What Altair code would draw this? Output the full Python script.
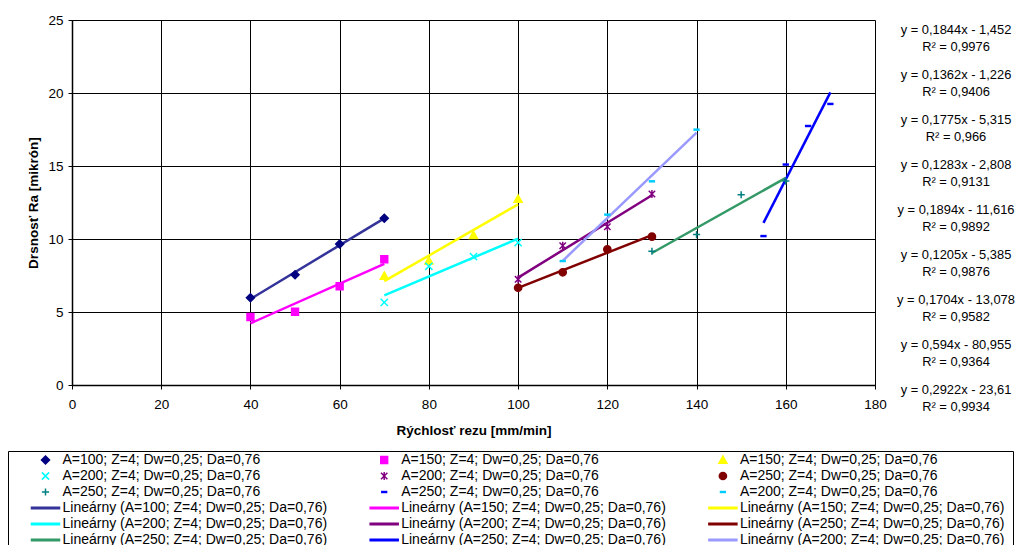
import altair as alt
import pandas as pd

FONT = "Arial, Liberation Sans, sans-serif"

# ---------------- data ----------------
series_labels = [
    "A=100; Z=4; Dw=0,25; Da=0,76",
    "A=150; Z=4; Dw=0,25; Da=0,76",
    "A=150; Z=4; Dw=0,25; Da=0,76",
    "A=200; Z=4; Dw=0,25; Da=0,76",
    "A=200; Z=4; Dw=0,25; Da=0,76",
    "A=250; Z=4; Dw=0,25; Da=0,76",
    "A=250; Z=4; Dw=0,25; Da=0,76",
    "A=250; Z=4; Dw=0,25; Da=0,76",
    "A=200; Z=4; Dw=0,25; Da=0,76",
]
marker_colors = ["#000080", "#FF00FF", "#FFFF00", "#00FFFF", "#800080",
                 "#800000", "#008080", "#0000FF", "#00CCFF"]
trend_colors = ["#333399", "#FF00FF", "#FFFF00", "#00FFFF", "#800080",
                "#800000", "#339966", "#0000FF", "#9999FF"]
marker_shapes = [
    "M0,-0.5L0.5,0L0,0.5L-0.5,0Z",                                   # diamond
    "M-0.43,-0.43L0.43,-0.43L0.43,0.43L-0.43,0.43Z",                 # square
    "M0,-0.5L0.5,0.4L-0.5,0.4Z",                                     # triangle
    "M-0.45,-0.45L0.45,0.45M-0.45,0.45L0.45,-0.45",                  # x
    "M-0.4,-0.4L0.4,0.4M-0.4,0.4L0.4,-0.4M0,-0.5L0,0.5",             # star
    "M0.45,0A0.45,0.45,0,1,1,-0.45,0A0.45,0.45,0,1,1,0.45,0Z",       # circle
    "M-0.45,0L0.45,0M0,-0.45L0,0.45",                                # plus
    "M-0.3,-0.06L0.3,-0.06L0.3,0.06L-0.3,0.06Z",                     # dash
    "M-0.3,-0.06L0.3,-0.06L0.3,0.06L-0.3,0.06Z",                     # dash
]
line_shape = "M-1.75,-0.1L1.75,-0.1L1.75,0.1L-1.75,0.1Z"

x_values = [
    [40, 50, 60, 70],
    [40, 50, 60, 70],
    [70, 80, 90, 100],
    [70, 80, 90, 100],
    [100, 110, 120, 130],
    [100, 110, 120, 130],
    [130, 140, 150, 160],
    [155, 160, 165, 170],
    [110, 120, 130, 140],
]
y_values = [
    [5.98, 7.55, 9.66, 11.42],
    [4.66, 5.02, 6.76, 8.61],
    [7.47, 8.51, 10.25, 12.74],
    [5.66, 8.13, 8.79, 9.75],
    [7.24, 9.54, 10.84, 13.08],
    [6.66, 7.72, 9.29, 10.16],
    [9.16, 10.30, 13.03, 13.97],
    [10.20, 15.10, 17.74, 19.25],
    [8.49, 11.67, 13.95, 17.49],
]
eq_texts = [
    "y = 0,1844x - 1,452", "y = 0,1362x - 1,226", "y = 0,1775x - 5,315",
    "y = 0,1283x - 2,808", "y = 0,1894x - 11,616", "y = 0,1205x - 5,385",
    "y = 0,1704x - 13,078", "y = 0,594x - 80,955", "y = 0,2922x - 23,61",
]
r2_texts = [
    "R² = 0,9976", "R² = 0,9406", "R² = 0,966", "R² = 0,9131", "R² = 0,9892",
    "R² = 0,9876", "R² = 0,9582", "R² = 0,9364", "R² = 0,9934",
]

# ---------------- tables ----------------
marker_keys = [f"{i + 1}|{lab}" for i, lab in enumerate(series_labels)]
line_keys = [f"{i + 10}|Lineárny ({lab})" for i, lab in enumerate(series_labels)]
legend_domain = marker_keys + line_keys
legend_colors = marker_colors + trend_colors
legend_shapes = marker_shapes + [line_shape] * 9

rows = []
for i in range(len(series_labels)):
    for xv, yv in zip(x_values[i], y_values[i]):
        rows.append({"key": marker_keys[i], "tcolor": trend_colors[i], "x": xv, "y": yv})
df = pd.DataFrame(rows)

eq_df = pd.DataFrame({
    "idx": list(range(len(eq_texts))),
    "txt": [f"{e}\n{r}" for e, r in zip(eq_texts, r2_texts)],
})

# ---------------- scales / axes ----------------
xscale = alt.Scale(domain=[0, 180], nice=False, zero=False)
yscale = alt.Scale(domain=[0, 25], nice=False)
xaxis = alt.Axis(values=list(range(0, 181, 20)), title="Rýchlosť rezu [mm/min]",
                 grid=True, gridColor="black", gridWidth=1, domainColor="black",
                 domainWidth=1.5,
                 tickColor="black", tickSize=4, labelPadding=8, labelFlush=False,
                 labelOverlap=False, labelFontSize=13.5, labelFont=FONT, labelColor="black",
                 titleFont=FONT, titleFontSize=13.5, titleFontWeight="bold",
                 titleColor="black", titlePadding=13)
yaxis = alt.Axis(values=list(range(0, 26, 5)), title="Drsnosť Ra [mikrón]",
                 grid=True, gridColor="black", gridWidth=1, domainColor="black",
                 domainWidth=1.5,
                 tickColor="black", tickSize=4, labelPadding=5,
                 labelFontSize=13.5, labelFont=FONT, labelColor="black",
                 titleFont=FONT, titleFontSize=13.5, titleFontWeight="bold",
                 titleColor="black", titlePadding=7)

legend = alt.Legend(
    title="\u00a0", titleOrient="right", titlePadding=8, titleFontSize=4,
    orient="none", legendX=-64, legendY=431, columns=3,
    direction="horizontal",
    symbolSize=256, symbolOffset=28.5, labelOffset=8, symbolStrokeWidth=1.5,
    labelFontSize=14, labelFont=FONT, labelColor="black", labelLimit=0,
    labelExpr="split(datum.label, '|')[1]",
    columnPadding=18.7, rowPadding=0, padding=0,
    strokeColor="black", fillColor="white",
)

base = alt.Chart(df)

trend = base.transform_regression("x", "y", groupby=["key", "tcolor"]).mark_line(
    strokeWidth=2.5
).encode(
    x=alt.X("x:Q", scale=xscale, axis=xaxis),
    y=alt.Y("y:Q", scale=yscale, axis=yaxis),
    color=alt.Color("tcolor:N", scale=None),
    detail="key:N",
)

points = base.mark_point(filled=False, opacity=1, size=256, strokeWidth=1.5).encode(
    x=alt.X("x:Q", scale=xscale),
    y=alt.Y("y:Q", scale=yscale),
    color=alt.Color("key:N", scale=alt.Scale(domain=legend_domain, range=legend_colors), legend=legend),
    fill=alt.Fill("key:N", scale=alt.Scale(domain=legend_domain, range=legend_colors), legend=legend),
    shape=alt.Shape("key:N", scale=alt.Scale(domain=legend_domain, range=legend_shapes), legend=legend),
)

eqs = alt.Chart(eq_df).mark_text(
    align="center", baseline="middle", fontSize=12.9, lineHeight=17,
    font=FONT, color="black", lineBreak="\n"
).encode(
    x=alt.value(884),
    y=alt.Y("idx:O", axis=None, scale=alt.Scale(type="point", range=[10, 370], padding=0)),
    text=alt.Text("txt:N"),
)

main = alt.layer(trend, points)
chart = alt.layer(main, eqs).resolve_scale(y="independent").properties(
    width=803, height=365,
    autosize=alt.AutoSizeParams(type="none"),
    padding={"left": 64, "top": 12, "right": 141, "bottom": 160},
).configure_view(stroke="black", strokeWidth=1).configure(background="white")

chart.save("out.html", embed_options={"renderer": "svg", "actions": False})
